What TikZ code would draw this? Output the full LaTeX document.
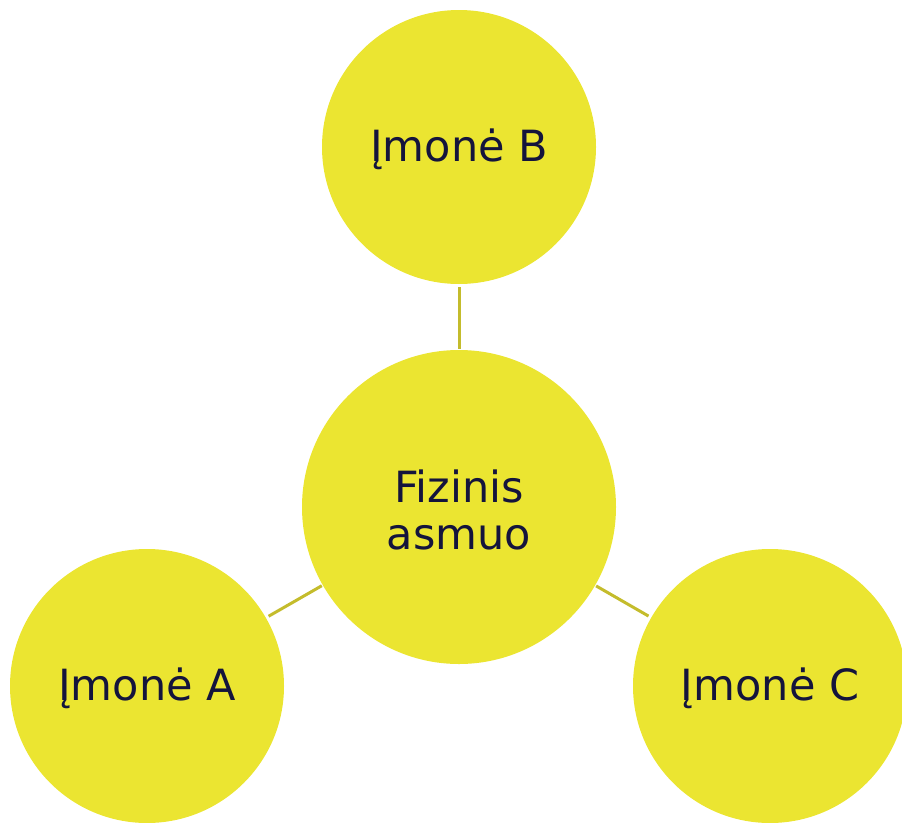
\documentclass[tikz,border=0pt]{standalone}
\usepackage{fontspec}
\setmainfont{DejaVu Sans}
\definecolor{circfill}{HTML}{EBE531}
\definecolor{linkcol}{HTML}{C4BC2C}
\definecolor{txtcol}{HTML}{14143C}
\begin{document}
\begin{tikzpicture}[x=1pt,y=-1pt,
  bubble/.style={circle,fill=circfill,draw=none,inner sep=0pt},
  label/.style={text=txtcol,inner sep=0pt,align=center,font=\fontsize{43}{47}\selectfont},
  link/.style={draw=linkcol,line width=3pt,shorten <=3pt,shorten >=1pt}]
\useasboundingbox (0,0) rectangle (902,822);
\node[bubble,minimum size=314pt] (c) at (459,507) {};
\node[bubble,minimum size=274pt] (b) at (459,147) {};
\node[bubble,minimum size=274pt] (a) at (147,686) {};
\node[bubble,minimum size=274pt] (r) at (770,686) {};
\node[label] (ct) at (459,510) {Fizinis\\asmuo};
\node[label] (bt) at (459,149) {Įmonė B};
\node[label] (at) at (147,688) {Įmonė A};
\node[label] (rt) at (770,688) {Įmonė C};
\draw[link] (b) -- (c);
\draw[link] (a) -- (c);
\draw[link] (r) -- (c);
\end{tikzpicture}
\end{document}
